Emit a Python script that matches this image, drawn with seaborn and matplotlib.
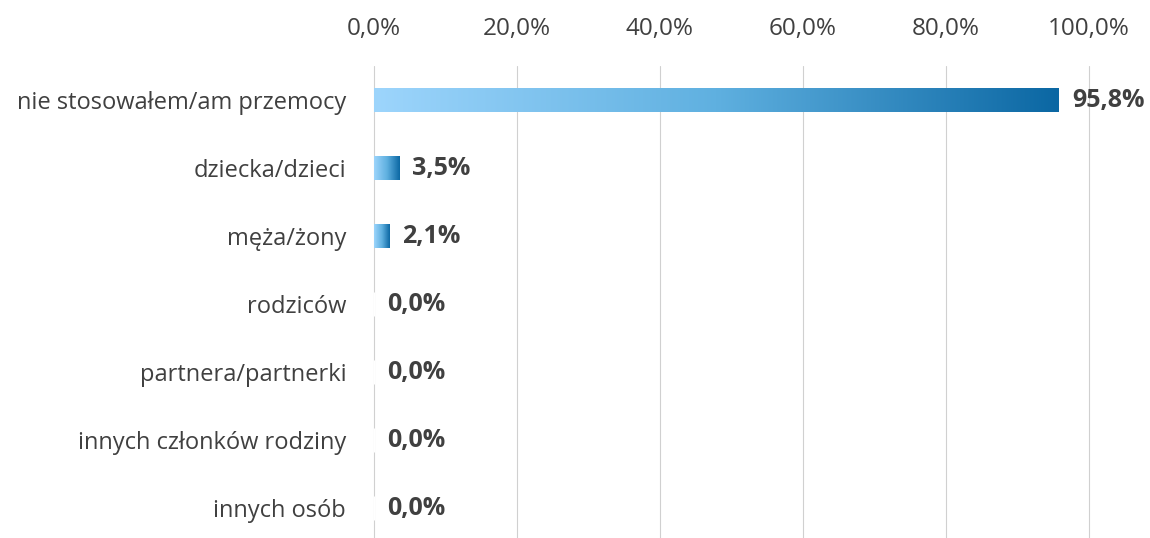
import numpy as np
import pandas as pd
import seaborn as sns
import matplotlib.pyplot as plt
from matplotlib.colors import LinearSegmentedColormap
from matplotlib.ticker import FuncFormatter

categories = ['nie stosowałem/am przemocy', 'dziecka/dzieci', 'męża/żony', 'rodziców',
              'partnera/partnerki', 'innych członków rodziny', 'innych osób']
values = [95.8, 3.5, 2.1, 0.0, 0.0, 0.0, 0.0]
ticks = [0, 20, 40, 60, 80, 100]

df = pd.DataFrame({'kategoria': categories, 'procent': values})

sns.set_style('white')
plt.rcParams['font.family'] = ['Open Sans', 'DejaVu Sans']

fig = plt.figure(figsize=(11.5, 5.38), dpi=100)
ax = fig.add_axes([374 / 1150, 0.0, (1089 - 374) / 1150, (538 - 66) / 538])

sns.barplot(data=df, y='kategoria', x='procent', orient='h', width=0.35, ax=ax,
            color='#4aa3dc')

cmap = LinearSegmentedColormap.from_list('grad', ['#9dd5fc', '#5fb0e0', '#0b67a3'])
grad = np.linspace(0, 1, 256).reshape(1, -1)
for p in ax.patches:
    w = p.get_width()
    if w <= 0:
        continue
    x0, y0, h = p.get_x(), p.get_y(), p.get_height()
    p.set_facecolor('none')
    p.set_edgecolor('none')
    im = ax.imshow(grad, cmap=cmap, aspect='auto', extent=[x0, x0 + w, y0 + h, y0],
                   zorder=3, interpolation='bicubic')
    im.set_clip_path(p)

for i, v in enumerate(values):
    ax.text(v + 1.8, i, f'{v:.1f}%'.replace('.', ','), va='center', ha='left',
            fontsize=18, fontweight='bold', color='#404040', zorder=4)

ax.set_xlim(0, 100)
ax.set_ylim(6.44, -0.5)
ax.set_xticks(ticks)
ax.xaxis.set_major_formatter(FuncFormatter(lambda x, _: f'{x:.1f}%'.replace('.', ',')))
ax.xaxis.tick_top()
ax.tick_params(axis='x', length=0, pad=18, labelsize=17.5, labelcolor='#404040')
ax.tick_params(axis='y', length=0, pad=20, labelsize=17, labelcolor='#404040')
ax.set_xlabel('')
ax.set_ylabel('')
ax.grid(axis='x', color='#d0d0d0', linewidth=0.8)
for gl in ax.get_xgridlines():
    gl.set_clip_on(False)
ax.set_axisbelow(True)
for s in ax.spines.values():
    s.set_visible(False)

fig.savefig('out.png', dpi=100)
